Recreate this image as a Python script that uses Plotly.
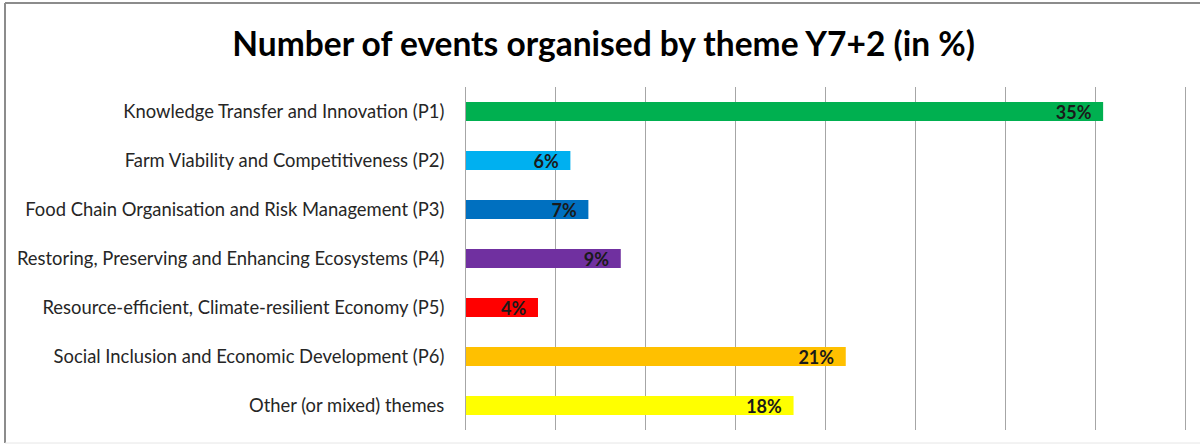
import plotly.graph_objects as go

# Share of events organised per theme (percent)
themes = [
    "Knowledge Transfer and Innovation (P1)",
    "Farm Viability and Competitiveness (P2)",
    "Food Chain Organisation and Risk Management (P3)",
    "Restoring, Preserving and Enhancing Ecosystems (P4)",
    "Resource-efficient, Climate-resilient Economy (P5)",
    "Social Inclusion and Economic Development (P6)",
    "Other (or mixed) themes",
]
shares = [35.4, 5.8, 6.8, 8.6, 4.0, 21.1, 18.2]
bar_colors = ["#00B050", "#00B0F0", "#0070C0", "#7030A0", "#FF0000", "#FFC000", "#FFFF00"]

W, H = 1200, 447
ML, MR, MT, MB = 466, 13, 87, 17
pw, ph = W - ML - MR, H - MT - MB

fig = go.Figure(
    go.Bar(
        x=shares,
        y=themes,
        orientation="h",
        marker=dict(color=bar_colors, line=dict(width=0)),
        texttemplate="%{x:.0f}%\u00a0\u00a0",
        textposition="inside",
        insidetextanchor="end",
        textangle=0,
        constraintext="none",
        textfont=dict(family="Lato", size=18, color="#1a1a1a", weight="bold"),
        cliponaxis=False,
        hoverinfo="skip",
    )
)

# Chart-area frame (left, top and a faint bottom edge)
def px_to_paper_x(px):
    return (px - ML) / pw

def px_to_paper_y(py):
    return (H - MB - py) / ph

frame = [
    dict(x0=px_to_paper_x(5), x1=px_to_paper_x(5), y0=px_to_paper_y(443), y1=px_to_paper_y(3), color="#8c8c8c", width=2),
    dict(x0=px_to_paper_x(5), x1=px_to_paper_x(1205), y0=px_to_paper_y(3), y1=px_to_paper_y(3), color="#8c8c8c", width=2),
    dict(x0=px_to_paper_x(5), x1=px_to_paper_x(1205), y0=px_to_paper_y(443), y1=px_to_paper_y(443), color="#e6e6e6", width=1),
]
for f in frame:
    fig.add_shape(
        type="line", xref="paper", yref="paper",
        x0=f["x0"], x1=f["x1"], y0=f["y0"], y1=f["y1"],
        line=dict(color=f["color"], width=f["width"]),
        layer="above",
    )

fig.update_layout(
    width=W,
    height=H,
    margin=dict(l=ML, r=MR, t=MT, b=MB, pad=0),
    paper_bgcolor="white",
    plot_bgcolor="white",
    bargap=0.61,
    showlegend=False,
    title=dict(
        text="<b>Number of events organised by theme Y7+2 (in %)</b>",
        x=0.503,
        xanchor="center",
        y=1 - 44 / H,
        yanchor="middle",
        font=dict(family="Lato", size=33.5, color="#000000"),
    ),
    xaxis=dict(
        range=[0, 40.06],
        dtick=5,
        tick0=0,
        showticklabels=False,
        showgrid=True,
        gridcolor="#A6A6A6",
        gridwidth=1,
        zeroline=False,
        showline=False,
        ticks="",
        fixedrange=True,
    ),
    yaxis=dict(
        autorange="reversed",
        showline=True,
        linecolor="#A6A6A6",
        linewidth=1,
        ticks="",
        ticklabelstandoff=17,
        tickfont=dict(family="Lato", size=18.4, color="#262626"),
        showgrid=False,
        fixedrange=True,
    ),
)

fig.write_html("out.html")
